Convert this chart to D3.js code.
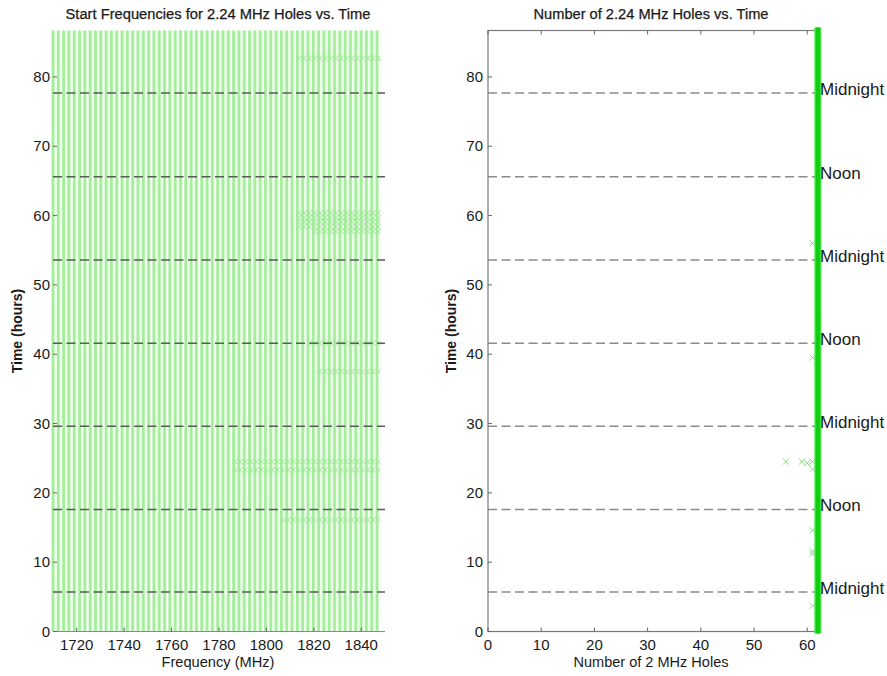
<!DOCTYPE html>
<html>
<head>
<meta charset="utf-8">
<script src="https://cdn.jsdelivr.net/npm/d3@7/dist/d3.min.js"></script>
<style>
  body { margin: 0; background: #fff; }
  svg text { font-family: "Liberation Sans", Arial, sans-serif; fill: #1a1a1a; }
</style>
</head>
<body>
<svg id="chart" width="887" height="676"></svg>
<script>
// ---------------- DATA ----------------
// Start frequencies (MHz) of the 2.24 MHz holes (each one present at nearly all times)
const startFreqs = [
  1710.00, 1712.24, 1714.48, 1716.72, 1718.96, 1721.20, 1723.44, 1725.68, 1727.92, 1730.16,
  1732.40, 1734.64, 1736.88, 1739.12, 1741.36, 1743.60, 1745.84, 1748.08, 1750.32, 1752.56,
  1754.80, 1757.04, 1759.28, 1761.52, 1763.76, 1766.00, 1768.24, 1770.48, 1772.72, 1774.96,
  1777.20, 1779.44, 1781.68, 1783.92, 1786.16, 1788.40, 1790.64, 1792.88, 1795.12, 1797.36,
  1799.60, 1801.84, 1804.08, 1806.32, 1808.56, 1810.80, 1813.04, 1815.28, 1817.52, 1819.76,
  1822.00, 1824.24, 1826.48, 1828.72, 1830.96, 1833.20, 1835.44, 1837.68, 1839.92, 1842.16,
  1844.40, 1846.64
];
// Times (hours) at which rows of shifted hole start frequencies appear, with their frequency span
const shiftTimes = [82.7, 60.4, 59.7, 59.1, 58.4, 57.7, 41.6, 37.5, 24.5, 23.3, 16.1];
const shiftFrom  = [1812, 1813, 1813, 1813, 1813, 1818, 1816, 1821, 1785, 1785, 1806];
const shiftTo    = [1847, 1847, 1847, 1847, 1847, 1847, 1847, 1847, 1847, 1847, 1847];

// Number of holes vs time: the steady count and the outlier samples
const steadyCount = 62;
const outlierTimes  = [56.0, 39.5, 24.5, 24.5, 24.3, 24.5, 23.4, 14.6, 11.6, 11.2, 3.7];
const outlierCounts = [61,   61,   56,   59,   60,   61,   61,   61,   61,   61,   61];

// Day markers
const markerTimes  = [5.7, 17.6, 29.6, 41.6, 53.6, 65.6, 77.7];
const markerLabels = ["Midnight", "Noon", "Midnight", "Noon", "Midnight", "Noon", "Midnight"];

// Axis ticks
const timeTicks  = [0, 10, 20, 30, 40, 50, 60, 70, 80];
const freqTicks  = [1720, 1740, 1760, 1780, 1800, 1820, 1840];
const countTicks = [0, 10, 20, 30, 40, 50, 60];

const timeMax = 86.7;

// ---------------- DRAW ----------------
const svg = d3.select("#chart");

// Layout
const L = { left: 53, right: 385, top: 30.5, bottom: 631.5 };
const R = { left: 488, right: 820, top: 30.5, bottom: 631.5 };

const yL = d3.scaleLinear().domain([0, timeMax]).range([L.bottom, L.top]);
const yR = d3.scaleLinear().domain([0, timeMax]).range([R.bottom, R.top]);
const xL = d3.scaleLinear().domain([1710, 1850]).range([L.left, L.right]);
const xR = d3.scaleLinear().domain([0, 62.4]).range([R.left, R.right]);

function xMark(g, cx, cy, s, color, w) {
  g.append("path")
    .attr("d", `M${cx - s},${cy - s}L${cx + s},${cy + s}M${cx - s},${cy + s}L${cx + s},${cy - s}`)
    .attr("stroke", color).attr("stroke-width", w).attr("fill", "none");
}

// ---------- LEFT PANEL ----------
const gL = svg.append("g");

// pale background under the columns
gL.append("rect")
  .attr("x", xL(startFreqs[0]) - 2)
  .attr("y", yL(timeMax))
  .attr("width", xL(startFreqs[startFreqs.length - 1]) - xL(startFreqs[0]) + 4)
  .attr("height", yL(0) - yL(timeMax))
  .attr("fill", "#f0fcee");

// vertical columns of markers (one per start frequency)
gL.selectAll("line.col").data(startFreqs).enter().append("line")
  .attr("class", "col")
  .attr("x1", d => xL(d)).attr("x2", d => xL(d))
  .attr("y1", yL(0)).attr("y2", yL(timeMax))
  .attr("stroke", "#a5ef9c").attr("stroke-width", 2.8);

// rows of shifted start frequencies
shiftTimes.forEach((t, i) => {
  startFreqs.filter(f => f >= shiftFrom[i] && f <= shiftTo[i]).forEach(f => {
    xMark(gL, xL(f) + 1.2, yL(t), 2.5, "#9be893", 1);
  });
});

// dashed day lines
gL.selectAll("line.day").data(markerTimes).enter().append("line")
  .attr("x1", L.left).attr("x2", L.right)
  .attr("y1", d => yL(d)).attr("y2", d => yL(d))
  .attr("stroke", "#5a5a5a").attr("stroke-width", 1.5)
  .attr("stroke-dasharray", "9,4.5");

// bottom axis line
gL.append("line")
  .attr("x1", L.left).attr("x2", L.right)
  .attr("y1", L.bottom).attr("y2", L.bottom)
  .attr("stroke", "#8a8a8a").attr("stroke-width", 1.2);

// x ticks (inside)
gL.selectAll("line.xt").data(freqTicks).enter().append("line")
  .attr("x1", d => xL(d)).attr("x2", d => xL(d))
  .attr("y1", L.bottom).attr("y2", L.bottom - 4)
  .attr("stroke", "#666").attr("stroke-width", 1);
gL.selectAll("text.xt").data(freqTicks).enter().append("text")
  .attr("x", d => xL(d)).attr("y", 650)
  .attr("text-anchor", "middle").attr("font-size", 15)
  .text(d => d);

// y ticks
gL.selectAll("line.yt").data(timeTicks).enter().append("line")
  .attr("x1", L.left).attr("x2", L.left + 4)
  .attr("y1", d => yL(d)).attr("y2", d => yL(d))
  .attr("stroke", "#666").attr("stroke-width", 1);
gL.selectAll("text.yt").data(timeTicks).enter().append("text")
  .attr("x", 50).attr("y", d => yL(d) + 5)
  .attr("text-anchor", "end").attr("font-size", 15)
  .text(d => d);

gL.append("text").attr("x", 218).attr("y", 19)
  .attr("text-anchor", "middle").attr("font-size", 14)
  .attr("textLength", 305).attr("lengthAdjust", "spacingAndGlyphs")
  .attr("stroke", "#1a1a1a").attr("stroke-width", 0.25)
  .text("Start Frequencies for 2.24 MHz Holes vs. Time");
gL.append("text").attr("x", 218).attr("y", 667)
  .attr("text-anchor", "middle").attr("font-size", 15)
  .attr("textLength", 113).attr("lengthAdjust", "spacingAndGlyphs")
  .text("Frequency (MHz)");
gL.append("text")
  .attr("transform", `translate(22,${(L.top + L.bottom) / 2}) rotate(-90)`)
  .attr("text-anchor", "middle").attr("font-size", 14)
  .attr("font-weight", "bold")
  .text("Time (hours)");

// ---------- RIGHT PANEL ----------
const gR = svg.append("g");

// dashed day lines
gR.selectAll("line.day").data(markerTimes).enter().append("line")
  .attr("x1", R.left).attr("x2", R.right - 3)
  .attr("y1", d => yR(d)).attr("y2", d => yR(d))
  .attr("stroke", "#8c8c8c").attr("stroke-width", 1.5)
  .attr("stroke-dasharray", "9,4.5");

// box
gR.append("rect")
  .attr("x", R.left).attr("y", R.top)
  .attr("width", R.right - R.left).attr("height", R.bottom - R.top)
  .attr("fill", "none").attr("stroke", "#7a7a7a").attr("stroke-width", 1.2);

// ticks on all four sides
countTicks.forEach(d => {
  gR.append("line").attr("x1", xR(d)).attr("x2", xR(d))
    .attr("y1", R.bottom).attr("y2", R.bottom - 4).attr("stroke", "#666");
  gR.append("line").attr("x1", xR(d)).attr("x2", xR(d))
    .attr("y1", R.top).attr("y2", R.top + 4).attr("stroke", "#666");
});
timeTicks.forEach(d => {
  gR.append("line").attr("x1", R.left).attr("x2", R.left + 4)
    .attr("y1", yR(d)).attr("y2", yR(d)).attr("stroke", "#666");
  gR.append("line").attr("x1", R.right - 4).attr("x2", R.right)
    .attr("y1", yR(d)).attr("y2", yR(d)).attr("stroke", "#666");
});

gR.selectAll("text.xt").data(countTicks).enter().append("text")
  .attr("x", d => xR(d)).attr("y", 650)
  .attr("text-anchor", "middle").attr("font-size", 15)
  .text(d => d);
gR.selectAll("text.yt").data(timeTicks).enter().append("text")
  .attr("x", 483).attr("y", d => yR(d) + 5)
  .attr("text-anchor", "end").attr("font-size", 15)
  .text(d => d);

// outlier samples
outlierTimes.forEach((t, i) => {
  xMark(gR, xR(outlierCounts[i]), yR(t), 3, "#86d986", 1);
});

// steady hole count
gR.append("line")
  .attr("x1", xR(steadyCount)).attr("x2", xR(steadyCount))
  .attr("y1", yR(0) + 2).attr("y2", yR(timeMax) - 3)
  .attr("stroke", "#3ee23e").attr("stroke-width", 7);
gR.append("line")
  .attr("x1", xR(steadyCount)).attr("x2", xR(steadyCount))
  .attr("y1", yR(0) + 2).attr("y2", yR(timeMax) - 3)
  .attr("stroke", "#11cc11").attr("stroke-width", 4);

// Midnight / Noon labels
gR.selectAll("text.lab").data(markerTimes).enter().append("text")
  .attr("x", 820).attr("y", d => yR(d) + 2)
  .attr("font-size", 17)
  .text((d, i) => markerLabels[i]);

gR.append("text").attr("x", 651).attr("y", 19)
  .attr("text-anchor", "middle").attr("font-size", 14)
  .attr("textLength", 235).attr("lengthAdjust", "spacingAndGlyphs")
  .attr("stroke", "#1a1a1a").attr("stroke-width", 0.25)
  .text("Number of 2.24 MHz Holes vs. Time");
gR.append("text").attr("x", 651).attr("y", 667)
  .attr("text-anchor", "middle").attr("font-size", 15)
  .attr("textLength", 155).attr("lengthAdjust", "spacingAndGlyphs")
  .text("Number of 2 MHz Holes");
gR.append("text")
  .attr("transform", `translate(456,${(R.top + R.bottom) / 2}) rotate(-90)`)
  .attr("text-anchor", "middle").attr("font-size", 14)
  .attr("font-weight", "bold")
  .text("Time (hours)");
</script>
</body>
</html>
